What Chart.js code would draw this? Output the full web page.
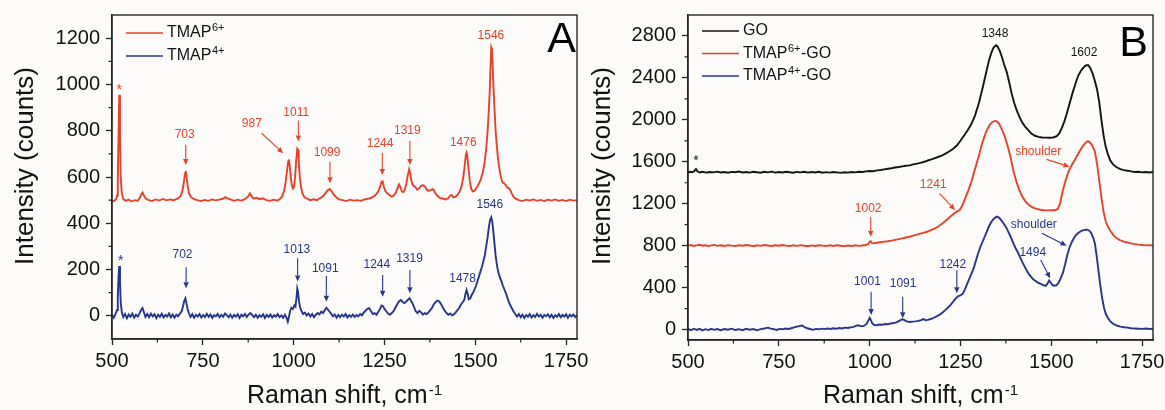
<!DOCTYPE html>
<html>
<head>
<meta charset="utf-8">
<script src="https://cdn.jsdelivr.net/npm/chart.js@4.4.0/dist/chart.umd.min.js"></script>
<style>
  body { margin: 0; background: #fdfbf9; width: 1165px; height: 410px; position: relative; overflow: hidden; }
  canvas { position: absolute; top: 0; }
  #chartA { left: 0; }
  #chartB { left: 582px; }
</style>
</head>
<body>
<canvas id="chartA" width="600" height="410"></canvas>
<canvas id="chartB" width="583" height="410"></canvas>
<script>
// ---- data (Raman shift, intensity) ----
var ramanA_tmap6 = [
  [500,492],[506,498],[511,503],[514,520],[516,600],[518,780],[520,955],[522,780],[524,600],[527,530],[531,505],[538,497],[546,502],[554,494],[562,500],[570,497],[576,508],[580,522],[584,533],[588,520],[593,507],[600,501],[610,496],[620,503],[630,498],[640,505],[650,499],[660,503],[670,500],[680,506],[688,516],[694,540],[698,580],[701,615],[703,626],[705,605],[708,565],[712,530],[718,512],[726,504],[735,500],[745,496],[755,501],[765,497],[775,503],[785,499],[795,502],[805,506],[812,513],[818,508],[826,503],[836,497],[846,502],[856,498],[866,504],[874,515],[880,529],[885,515],[890,506],[898,510],[906,504],[915,508],[925,500],[935,497],[945,502],[955,498],[962,505],[968,515],[974,540],[978,580],[982,630],[985,668],[987,676],[989,650],[992,600],[995,565],[998,550],[1001,556],[1004,600],[1007,670],[1010,722],[1012,718],[1014,670],[1017,600],[1020,560],[1024,530],[1030,512],[1038,505],[1046,500],[1055,504],[1064,500],[1072,508],[1080,515],[1087,528],[1093,542],[1099,548],[1104,540],[1110,525],[1117,512],[1125,503],[1135,500],[1145,496],[1155,502],[1165,498],[1175,500],[1185,497],[1195,503],[1205,506],[1215,511],[1224,520],[1232,535],[1238,558],[1242,580],[1245,581],[1248,560],[1252,540],[1256,532],[1260,528],[1265,520],[1270,515],[1276,520],[1282,535],[1287,555],[1290,568],[1294,555],[1298,537],[1302,535],[1306,545],[1310,570],[1314,605],[1318,633],[1321,615],[1324,585],[1328,565],[1332,560],[1336,555],[1340,545],[1345,550],[1350,560],[1355,565],[1359,562],[1363,555],[1367,545],[1372,540],[1377,543],[1382,548],[1386,543],[1390,530],[1396,518],[1402,510],[1410,507],[1418,503],[1425,508],[1431,520],[1435,522],[1440,512],[1446,515],[1452,525],[1458,540],[1463,565],[1467,600],[1471,650],[1474,695],[1476,705],[1478,690],[1481,640],[1485,580],[1489,548],[1493,538],[1497,540],[1502,550],[1508,565],[1514,585],[1520,615],[1525,655],[1530,720],[1534,800],[1537,880],[1540,980],[1542,1080],[1544,1160],[1546,1150],[1548,1080],[1550,990],[1553,890],[1556,800],[1560,720],[1564,660],[1568,620],[1572,590],[1576,575],[1580,572],[1584,565],[1588,555],[1592,552],[1596,545],[1600,530],[1605,515],[1612,505],[1620,500],[1630,496],[1640,502],[1650,498],[1660,503],[1670,497],[1680,501],[1690,496],[1700,502],[1710,498],[1720,503],[1730,497],[1740,501],[1750,496],[1760,502],[1770,498],[1780,500]
];
var ramanA_tmap4 = [
  [500,5],[505,-8],[510,10],[514,25],[516,80],[518,170],[520,215],[522,150],[524,60],[527,15],[531,-5],[536,8],[541,-10],[546,6],[551,-4],[556,10],[561,-8],[566,5],[571,-3],[576,12],[580,25],[584,34],[588,15],[592,-5],[597,8],[602,-6],[607,10],[612,-2],[617,7],[622,-10],[627,5],[632,-4],[637,9],[642,-7],[647,4],[652,-3],[657,10],[662,-6],[667,6],[672,-8],[677,5],[682,-2],[687,10],[692,20],[696,45],[699,65],[702,76],[705,55],[708,30],[712,10],[716,-5],[721,7],[726,-8],[731,5],[736,-3],[741,8],[746,-7],[751,4],[756,-5],[761,9],[766,-4],[771,6],[776,-9],[781,3],[786,-2],[791,8],[796,-6],[801,5],[806,-4],[811,10],[816,3],[821,-6],[826,5],[831,-8],[836,4],[841,-3],[846,7],[851,-9],[856,5],[861,-2],[866,8],[871,-5],[876,6],[881,12],[886,3],[891,-6],[896,5],[901,-8],[906,3],[911,-4],[916,7],[921,-9],[926,4],[931,-5],[936,6],[941,-7],[946,3],[951,-4],[956,8],[961,-6],[966,2],[971,-8],[976,5],[981,-10],[984,-25],[987,-5],[990,20],[994,35],[998,30],[1002,45],[1005,40],[1008,80],[1010,118],[1012,105],[1015,60],[1018,35],[1022,20],[1026,8],[1031,14],[1036,2],[1041,10],[1046,-3],[1051,8],[1056,-6],[1061,5],[1066,12],[1071,6],[1076,18],[1081,12],[1086,25],[1090,35],[1094,28],[1098,20],[1103,10],[1108,-2],[1113,6],[1118,-8],[1123,4],[1128,-6],[1133,5],[1138,-3],[1143,8],[1148,-7],[1153,3],[1158,-4],[1163,6],[1168,-5],[1173,4],[1178,-2],[1183,8],[1188,2],[1193,14],[1198,22],[1203,30],[1208,33],[1213,20],[1218,8],[1223,12],[1228,5],[1233,18],[1238,30],[1242,45],[1246,42],[1250,30],[1255,20],[1260,10],[1265,5],[1270,12],[1275,20],[1280,35],[1285,50],[1290,62],[1295,68],[1300,60],[1305,55],[1310,62],[1315,70],[1319,76],[1323,65],[1327,55],[1331,40],[1336,20],[1341,12],[1346,22],[1351,15],[1356,5],[1361,12],[1366,8],[1371,15],[1376,25],[1381,35],[1386,50],[1391,60],[1396,66],[1401,62],[1406,50],[1411,35],[1416,22],[1421,12],[1426,5],[1431,10],[1436,2],[1441,6],[1446,15],[1451,25],[1456,35],[1461,50],[1466,60],[1470,70],[1473,95],[1476,112],[1479,95],[1482,72],[1486,75],[1490,90],[1494,100],[1498,115],[1502,130],[1506,150],[1510,170],[1514,190],[1518,210],[1522,235],[1526,260],[1530,300],[1534,340],[1538,390],[1541,415],[1544,426],[1547,405],[1550,360],[1553,310],[1556,260],[1560,215],[1564,185],[1568,165],[1572,150],[1576,130],[1580,115],[1585,95],[1590,70],[1595,50],[1600,35],[1605,20],[1610,8],[1615,-3],[1620,8],[1625,-6],[1630,5],[1635,-9],[1640,4],[1645,-4],[1650,8],[1655,-7],[1660,3],[1665,-5],[1670,9],[1675,-3],[1680,5],[1685,-8],[1690,4],[1695,-2],[1700,7],[1705,-6],[1710,5],[1715,-9],[1720,3],[1725,-4],[1730,8],[1735,-6],[1740,4],[1745,-3],[1750,7],[1755,-8],[1760,5],[1765,-2],[1770,6],[1775,-5],[1780,3]
];
var ramanB_go = [
  [500,1495],[506,1505],[512,1500],[518,1515],[522,1530],[526,1510],[532,1498],[540,1505],[550,1497],[560,1503],[570,1499],[580,1506],[590,1498],[600,1502],[610,1496],[620,1504],[630,1500],[640,1507],[650,1498],[660,1503],[670,1497],[680,1505],[690,1500],[700,1496],[710,1504],[720,1499],[730,1506],[740,1497],[750,1502],[760,1498],[770,1505],[780,1500],[790,1496],[800,1503],[810,1499],[820,1505],[830,1497],[840,1502],[850,1498],[860,1504],[870,1496],[880,1501],[890,1497],[900,1503],[910,1499],[920,1494],[930,1500],[940,1497],[950,1503],[960,1499],[970,1505],[980,1502],[990,1508],[1000,1512],[1010,1510],[1020,1518],[1030,1522],[1040,1528],[1050,1533],[1060,1538],[1070,1545],[1080,1550],[1090,1556],[1100,1562],[1110,1566],[1120,1575],[1130,1582],[1140,1590],[1150,1600],[1160,1612],[1170,1622],[1180,1635],[1190,1648],[1200,1662],[1210,1680],[1220,1700],[1230,1725],[1240,1755],[1250,1800],[1260,1850],[1270,1900],[1280,1960],[1290,2040],[1300,2150],[1310,2290],[1320,2440],[1328,2560],[1335,2640],[1341,2690],[1348,2712],[1352,2700],[1358,2660],[1364,2600],[1370,2530],[1377,2460],[1384,2360],[1391,2250],[1398,2160],[1405,2090],[1412,2030],[1420,1975],[1428,1935],[1436,1905],[1445,1870],[1455,1848],[1465,1838],[1475,1832],[1485,1830],[1495,1829],[1505,1832],[1515,1845],[1522,1870],[1530,1930],[1536,1985],[1542,2050],[1550,2150],[1558,2250],[1566,2340],[1574,2420],[1582,2470],[1590,2505],[1596,2520],[1602,2520],[1608,2490],[1614,2440],[1620,2370],[1626,2290],[1632,2170],[1638,2000],[1644,1850],[1650,1740],[1656,1670],[1662,1615],[1670,1575],[1680,1548],[1690,1530],[1700,1520],[1710,1515],[1720,1508],[1730,1502],[1740,1505],[1750,1499],[1760,1503],[1770,1498],[1780,1502]
];
var ramanB_tmap6go = [
  [500,800],[508,806],[516,797],[524,803],[532,808],[540,799],[548,804],[556,796],[564,802],[572,807],[580,798],[590,803],[600,797],[610,805],[620,800],[630,796],[640,804],[650,799],[660,806],[670,801],[680,795],[690,803],[700,798],[710,806],[720,801],[730,797],[740,804],[750,799],[760,806],[770,800],[780,796],[790,803],[800,798],[810,805],[820,799],[830,795],[840,802],[850,797],[860,804],[870,800],[880,796],[890,803],[900,797],[910,804],[920,799],[930,795],[940,801],[950,796],[960,803],[970,798],[980,802],[990,806],[996,815],[1000,838],[1003,842],[1006,825],[1010,822],[1020,828],[1030,833],[1040,838],[1050,842],[1060,848],[1070,855],[1080,862],[1090,870],[1100,878],[1110,885],[1120,895],[1130,905],[1140,915],[1150,925],[1160,935],[1170,950],[1180,965],[1190,985],[1200,1010],[1210,1040],[1220,1070],[1230,1100],[1240,1125],[1248,1140],[1256,1190],[1264,1260],[1272,1330],[1280,1410],[1290,1530],[1300,1650],[1310,1780],[1320,1880],[1330,1950],[1338,1980],[1344,1990],[1350,1985],[1356,1965],[1364,1910],[1372,1840],[1380,1750],[1388,1640],[1396,1510],[1404,1410],[1412,1330],[1420,1270],[1428,1225],[1436,1195],[1444,1175],[1452,1160],[1460,1150],[1470,1142],[1480,1138],[1490,1136],[1500,1137],[1510,1138],[1518,1150],[1524,1200],[1530,1300],[1536,1380],[1542,1450],[1548,1510],[1555,1560],[1562,1600],[1570,1650],[1578,1700],[1586,1745],[1594,1780],[1600,1795],[1605,1790],[1612,1760],[1620,1700],[1626,1580],[1632,1420],[1638,1260],[1644,1120],[1650,1030],[1656,980],[1662,945],[1670,905],[1680,870],[1690,850],[1700,838],[1710,830],[1720,822],[1730,815],[1740,810],[1750,806],[1760,803],[1770,805],[1780,801]
];
var ramanB_tmap4go = [
  [500,5],[508,-6],[516,8],[524,-4],[532,6],[540,-8],[548,3],[556,-5],[564,7],[572,-3],[580,5],[590,-7],[600,4],[610,-2],[620,8],[630,-5],[640,3],[650,-6],[660,7],[670,-2],[680,5],[690,-8],[700,4],[710,10],[720,18],[728,8],[736,3],[744,-4],[752,6],[760,2],[768,9],[776,5],[784,12],[792,20],[800,28],[808,35],[814,38],[820,25],[828,12],[836,5],[844,-3],[852,6],[860,2],[868,8],[876,4],[884,10],[892,5],[900,12],[908,8],[916,14],[924,10],[932,18],[940,14],[948,20],[956,25],[962,35],[968,40],[974,35],[980,30],[986,38],[992,55],[997,90],[1000,112],[1003,95],[1007,60],[1012,45],[1018,40],[1026,48],[1034,45],[1042,52],[1050,50],[1058,58],[1066,62],[1074,68],[1080,80],[1086,92],[1091,98],[1096,90],[1102,78],[1110,72],[1118,75],[1126,78],[1134,82],[1142,90],[1148,100],[1154,88],[1160,92],[1168,100],[1176,110],[1184,125],[1192,140],[1200,160],[1208,185],[1216,210],[1224,240],[1232,275],[1238,300],[1242,315],[1246,320],[1250,325],[1256,340],[1262,380],[1268,430],[1274,480],[1280,530],[1286,580],[1292,650],[1298,720],[1304,780],[1310,830],[1316,880],[1322,930],[1328,980],[1334,1020],[1340,1050],[1346,1068],[1350,1078],[1355,1070],[1360,1052],[1366,1025],[1372,995],[1378,960],[1384,915],[1390,870],[1396,820],[1402,775],[1408,735],[1414,690],[1420,645],[1426,605],[1432,565],[1438,530],[1444,505],[1450,480],[1456,465],[1462,450],[1468,440],[1474,430],[1480,420],[1485,418],[1490,440],[1494,468],[1498,450],[1503,425],[1508,418],[1514,422],[1520,445],[1526,490],[1532,540],[1538,620],[1544,710],[1550,780],[1556,830],[1562,870],[1568,900],[1574,920],[1580,935],[1586,945],[1592,950],[1598,952],[1604,945],[1610,920],[1616,870],[1620,820],[1625,700],[1630,560],[1635,420],[1640,300],[1645,210],[1650,150],[1656,110],[1662,80],[1670,55],[1680,38],[1690,28],[1700,22],[1710,18],[1720,12],[1730,10],[1740,8],[1750,6],[1760,9],[1770,5],[1780,7]
];

// ticks
var xTickVals = [500, 750, 1000, 1250, 1500, 1750];
var xMinorVals = [625, 875, 1125, 1375, 1625];
var yTickValsA = [0, 200, 400, 600, 800, 1000, 1200];
var yMinorValsA = [100, 300, 500, 700, 900, 1100];
var yTickValsB = [0, 400, 800, 1200, 1600, 2000, 2400, 2800];
var yMinorValsB = [200, 600, 1000, 1400, 1800, 2200, 2600];

// legend texts: [main, superscript, tail]
var legendA = [['TMAP', '6+', ''], ['TMAP', '4+', '']];
var legendB = [['GO', '', ''], ['TMAP', '6+', '-GO'], ['TMAP', '4+', '-GO']];

const FONT = "'Liberation Sans', Arial, sans-serif";
const RED = '#e8412c';
const BLUE = '#26358f';
const BLACK = '#141414';
const AXIS = '#262626';

// peak labels, in data coordinates; a = arrow [x1,y1,x2,y2]
var notesA = [
  { t: '*', c: RED, x: 520, y: 976 },
  { t: '703', c: RED, x: 700, y: 782, a: [703, 739, 703, 652] },
  { t: '987', c: RED, x: 885, y: 832, a: [912, 789, 971, 703] },
  { t: '1011', c: RED, x: 1007, y: 878, a: [1013, 844, 1013, 753] },
  { t: '1099', c: RED, x: 1092, y: 707, a: [1100, 666, 1100, 573] },
  { t: '1244', c: RED, x: 1238, y: 743, a: [1244, 705, 1244, 609] },
  { t: '1319', c: RED, x: 1313, y: 800, a: [1320, 757, 1320, 652] },
  { t: '1476', c: RED, x: 1467, y: 750 },
  { t: '1546', c: RED, x: 1543, y: 1210 },
  { t: '*', c: BLUE, x: 524, y: 237 },
  { t: '702', c: BLUE, x: 694, y: 263, a: [704, 210, 704, 119] },
  { t: '1013', c: BLUE, x: 1009, y: 285, a: [1011, 249, 1011, 148] },
  { t: '1091', c: BLUE, x: 1087, y: 203, a: [1090, 172, 1090, 61] },
  { t: '1244', c: BLUE, x: 1229, y: 220, a: [1245, 177, 1245, 83] },
  { t: '1319', c: BLUE, x: 1319, y: 245, a: [1320, 198, 1320, 98] },
  { t: '1478', c: BLUE, x: 1465, y: 162 },
  { t: '1546', c: BLUE, x: 1540, y: 479 }
];
var notesB = [
  { t: '*', c: BLACK, x: 522, y: 1604 },
  { t: '1348', c: BLACK, x: 1345, y: 2825 },
  { t: '1602', c: BLACK, x: 1590, y: 2640 },
  { t: '1002', c: RED, x: 996, y: 1156, a: [1003, 1076, 1003, 885] },
  { t: '1241', c: RED, x: 1175, y: 1378, a: [1192, 1299, 1235, 1140] },
  { t: 'shoulder', c: RED, x: 1464, y: 1696, a: [1487, 1623, 1550, 1553] },
  { t: '1001', c: BLUE, x: 994, y: 456, a: [1004, 361, 1004, 138] },
  { t: '1091', c: BLUE, x: 1092, y: 434, a: [1091, 313, 1091, 107] },
  { t: '1242', c: BLUE, x: 1229, y: 615, a: [1240, 565, 1240, 345] },
  { t: 'shoulder', c: BLUE, x: 1452, y: 1003, a: [1474, 918, 1542, 800] },
  { t: '1494', c: BLUE, x: 1449, y: 733, a: [1471, 663, 1497, 488] }
];

function drawArrow(ctx, x1, y1, x2, y2, color) {
  const ang = Math.atan2(y2 - y1, x2 - x1), h = 6, w = 2.7;
  const cx = x2 - h * Math.cos(ang), cy = y2 - h * Math.sin(ang);
  ctx.strokeStyle = color; ctx.fillStyle = color; ctx.lineWidth = 1.1;
  ctx.beginPath(); ctx.moveTo(x1, y1); ctx.lineTo(cx, cy); ctx.stroke();
  ctx.beginPath();
  ctx.moveTo(x2, y2);
  ctx.lineTo(cx + w * Math.sin(ang), cy - w * Math.cos(ang));
  ctx.lineTo(cx - w * Math.sin(ang), cy + w * Math.cos(ang));
  ctx.closePath(); ctx.fill();
}

// frame, minor ticks, legend, labels, titles
const decoPlugin = {
  id: 'deco',
  afterDraw(chart, args, opts) {
    const ctx = chart.ctx, ca = chart.chartArea;
    const xs = chart.scales.x, ys = chart.scales.y;
    ctx.save();
    ctx.strokeStyle = AXIS; ctx.lineWidth = 1.4;
    ctx.strokeRect(ca.left, ca.top, ca.right - ca.left, ca.bottom - ca.top);
    ctx.lineWidth = 1.2;
    ctx.beginPath();
    xMinorVals.forEach(v => { const p = xs.getPixelForValue(v); ctx.moveTo(p, ca.bottom); ctx.lineTo(p, ca.bottom + 3.5); });
    opts.yMinor.forEach(v => { const p = ys.getPixelForValue(v); ctx.moveTo(ca.left, p); ctx.lineTo(ca.left - 3.5, p); });
    ctx.stroke();

    // legend
    ctx.textBaseline = 'middle'; ctx.textAlign = 'left';
    opts.legend.forEach((item, i) => {
      const y = ca.top + opts.legendTop + i * opts.legendGap;
      const col = chart.data.datasets[i].borderColor;
      ctx.strokeStyle = col; ctx.lineWidth = 1.6;
      ctx.beginPath(); ctx.moveTo(ca.left + 14, y); ctx.lineTo(ca.left + 51, y); ctx.stroke();
      let x = ca.left + 55;
      ctx.fillStyle = '#111';
      ctx.font = '16px ' + FONT;
      ctx.fillText(item[0], x, y); x += ctx.measureText(item[0]).width;
      if (item[1]) {
        ctx.font = '11px ' + FONT;
        ctx.fillText(item[1], x + 0.5, y - 5); x += ctx.measureText(item[1]).width + 1;
      }
      if (item[2]) { ctx.font = '16px ' + FONT; ctx.fillText(item[2], x, y); }
    });

    // peak labels
    ctx.textAlign = 'center'; ctx.textBaseline = 'middle';
    opts.notes.forEach(n => {
      ctx.font = (n.t === '*' ? '14px ' : '12px ') + FONT;
      ctx.fillStyle = n.c;
      ctx.fillText(n.t, xs.getPixelForValue(n.x), ys.getPixelForValue(n.y));
      if (n.a) {
        drawArrow(ctx, xs.getPixelForValue(n.a[0]), ys.getPixelForValue(n.a[1]),
          xs.getPixelForValue(n.a[2]), ys.getPixelForValue(n.a[3]), n.c);
      }
    });

    // panel letter
    ctx.fillStyle = '#000'; ctx.textAlign = 'right'; ctx.textBaseline = 'alphabetic';
    ctx.font = '43px ' + FONT;
    ctx.fillText(opts.letter, ca.right - opts.letterDx, ca.top + opts.letterDy);

    // x title with superscript
    ctx.fillStyle = '#111'; ctx.textAlign = 'left';
    const main = 'Raman shift, cm', sup = '-1';
    ctx.font = '25px ' + FONT; const w1 = ctx.measureText(main).width;
    ctx.font = '15px ' + FONT; const w2 = ctx.measureText(sup).width;
    const x0 = (ca.left + ca.right) / 2 - (w1 + 1 + w2) / 2;
    const by = ca.bottom + opts.xTitleDy;
    ctx.font = '25px ' + FONT; ctx.fillText(main, x0, by);
    ctx.font = '15px ' + FONT; ctx.fillText(sup, x0 + w1 + 1, by - 8);

    // y title
    ctx.translate(opts.yTitleX, 166);
    ctx.rotate(-Math.PI / 2);
    ctx.textAlign = 'center';
    ctx.font = '26px ' + FONT;
    ctx.fillText('Intensity (counts)', 0, 0);
    ctx.restore();
  }
};

function series(pairs, color) {
  return {
    data: pairs.map(p => ({ x: p[0], y: p[1] })),
    borderColor: color,
    borderWidth: 1.9,
    pointRadius: 0,
    tension: 0,
    fill: false
  };
}

function makeOptions(p) {
  const tickFont = { size: 20, family: FONT };
  return {
    responsive: false,
    animation: false,
    devicePixelRatio: 1,
    layout: { padding: { left: 0, right: p.padRight, top: 15, bottom: 0 } },
    plugins: {
      legend: { display: false },
      tooltip: { enabled: false },
      deco: p.deco
    },
    scales: {
      x: {
        type: 'linear', min: 500, max: 1780,
        afterBuildTicks: s => { s.ticks = xTickVals.map(v => ({ value: v })); },
        afterFit: s => { s.height = p.xAxisH; s.paddingLeft = 0; s.paddingRight = 0; },
        ticks: { font: tickFont, color: '#111', padding: 4, autoSkip: false, maxRotation: 0, callback: v => String(v) },
        grid: { drawOnChartArea: false, drawTicks: true, tickLength: 6, tickColor: AXIS, tickWidth: 1.3 },
        border: { display: true, color: AXIS, width: 1.4 }
      },
      y: {
        type: 'linear', min: p.yMin, max: p.yMax,
        afterBuildTicks: s => { s.ticks = p.yTicks.map(v => ({ value: v })); },
        afterFit: s => { s.width = p.yAxisW; s.paddingTop = 0; s.paddingBottom = 0; },
        ticks: { font: tickFont, color: '#111', padding: 6, autoSkip: false, callback: v => String(v) },
        grid: { drawOnChartArea: false, drawTicks: true, tickLength: 6, tickColor: AXIS, tickWidth: 1.3 },
        border: { display: true, color: AXIS, width: 1.4 }
      }
    }
  };
}

new Chart(document.getElementById('chartA'), {
  type: 'line',
  data: { datasets: [series(ramanA_tmap6, RED), series(ramanA_tmap4, BLUE)] },
  options: makeOptions({
    padRight: 23, xAxisH: 71, yAxisW: 112, yMin: -100, yMax: 1300, yTicks: yTickValsA,
    deco: { yMinor: yMinorValsA, legend: legendA, legendTop: 18, legendGap: 23, notes: notesA,
      letter: 'A', letterDx: 1, letterDy: 37, xTitleDy: 63.5, yTitleX: 33 }
  }),
  plugins: [decoPlugin]
});

new Chart(document.getElementById('chartB'), {
  type: 'line',
  data: { datasets: [series(ramanB_go, BLACK), series(ramanB_tmap6go, RED), series(ramanB_tmap4go, BLUE)] },
  options: makeOptions({
    padRight: 12, xAxisH: 70, yAxisW: 106, yMin: -100, yMax: 3000, yTicks: yTickValsB,
    deco: { yMinor: yMinorValsB, legend: legendB, legendTop: 16, legendGap: 22.5, notes: notesB,
      letter: 'B', letterDx: 5, letterDy: 41, xTitleDy: 63, yTitleX: 28 }
  }),
  plugins: [decoPlugin]
});
</script>
</body>
</html>
